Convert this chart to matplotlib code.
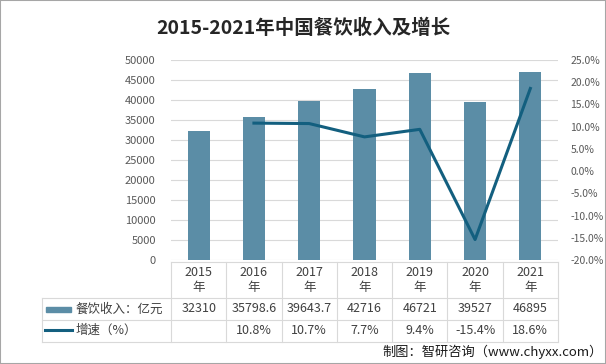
import matplotlib
matplotlib.use('Agg')
import matplotlib.pyplot as plt
from matplotlib.lines import Line2D
from matplotlib.patches import Rectangle
import numpy as np

plt.rcParams['font.family'] = ['Noto Sans CJK SC', 'DejaVu Sans']

years = ['2015', '2016', '2017', '2018', '2019', '2020', '2021']
revenue = [32310, 35798.6, 39643.7, 42716, 46721, 39527, 46895]
revenue_txt = ['32310', '35798.6', '39643.7', '42716', '46721', '39527', '46895']
growth = [np.nan, 10.8, 10.7, 7.7, 9.4, -15.4, 18.6]

W, H = 606, 364
bar_color = '#5b8da6'
line_color = '#135f7f'
grid_color = '#d9d9d9'
text_color = '#595959'


def fx(x):
    return x / W


def fy(y):
    return 1 - y / H


fig = plt.figure(figsize=(W / 100, H / 100), dpi=100)
fig.patches.append(Rectangle((0, 0), 1, 1, transform=fig.transFigure,
                             fill=False, edgecolor='#a6a6a6', lw=1.5))

left, right, top, bottom = 171, 558, 60, 260
ax = fig.add_axes([fx(left), fy(bottom), fx(right) - fx(left), fy(top) - fy(bottom)])
x = np.arange(len(years))
ax.bar(x, revenue, width=0.4, color=bar_color, zorder=2)
ax.set_xlim(-0.5, len(years) - 0.5)
ax.set_ylim(0, 50000)
ax.set_yticks(np.arange(0, 50001, 5000))
ax.yaxis.grid(True, color=grid_color, lw=0.8, zorder=0)
ax.set_xticks([])
for s in ax.spines.values():
    s.set_visible(False)
ax.tick_params(axis='y', length=0, pad=11, labelsize=8, labelcolor=text_color)

ax2 = ax.twinx()
ax2.plot(x, growth, color=line_color, lw=2.2, zorder=3)
ax2.set_ylim(-20, 25)
ax2.set_yticks(np.arange(-20, 26, 5))
ax2.set_yticklabels([f'{v:.1f}%' for v in np.arange(-20, 26, 5)])
for s in ax2.spines.values():
    s.set_visible(False)
ax2.tick_params(axis='y', length=0, pad=9, labelsize=7.5, labelcolor=text_color)

fig.text(0.5, fy(28), '2015-2021年中国餐饮收入及增长', ha='center', va='center',
         fontsize=14, fontweight='bold', color='#262626')

# data table
col_w = (right - left) / len(years)
rows = [262, 298, 320, 342]
lkw = dict(color=grid_color, lw=0.8, transform=fig.transFigure)
fig.add_artist(Line2D([fx(left), fx(right)], [fy(rows[0])] * 2, **lkw))
for r in rows[1:]:
    fig.add_artist(Line2D([fx(42), fx(right)], [fy(r)] * 2, **lkw))
for i in range(len(years) + 1):
    xx = left + i * col_w
    fig.add_artist(Line2D([fx(xx)] * 2, [fy(rows[0]), fy(rows[3])], **lkw))
fig.add_artist(Line2D([fx(42)] * 2, [fy(rows[1]), fy(rows[3])], **lkw))

tc = '#404040'
for i, yr in enumerate(years):
    cx = left + (i + 0.5) * col_w
    fig.text(fx(cx), fy(280), f'{yr}\n年', ha='center', va='center', fontsize=9,
             color=tc, linespacing=1.2)
    fig.text(fx(cx), fy(309), revenue_txt[i], ha='center', va='center', fontsize=9, color=tc)
    if not np.isnan(growth[i]):
        fig.text(fx(cx), fy(331), f'{growth[i]:.1f}%', ha='center', va='center',
                 fontsize=9, color=tc)

fig.patches.append(Rectangle((fx(46), fy(311.5)), fx(25), 5 / H, transform=fig.transFigure,
                             color=bar_color))
fig.add_artist(Line2D([fx(45), fx(72)], [fy(330)] * 2, color=line_color, lw=2.2,
                      transform=fig.transFigure))
fig.text(fx(76), fy(309), '餐饮收入：亿元', ha='left', va='center', fontsize=9, color=tc)
fig.text(fx(76), fy(330), '增速（%）', ha='left', va='center', fontsize=9, color=tc)

fig.text(fx(603), fy(352), '制图：智研咨询（www.chyxx.com）', ha='right', va='center',
         fontsize=9.5, color='#1a1a1a')

fig.savefig('out.png', dpi=100)
